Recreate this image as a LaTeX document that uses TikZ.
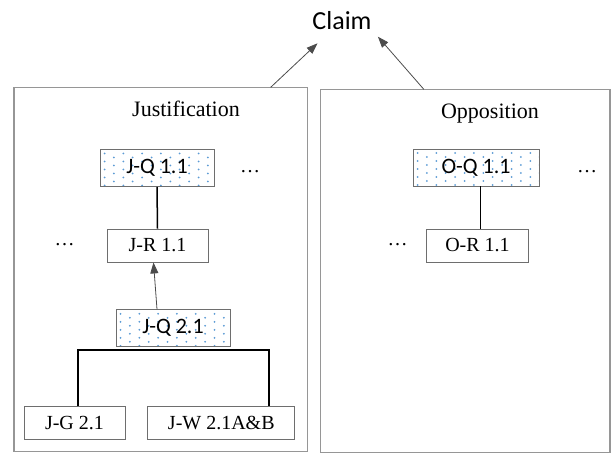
\documentclass[tikz,border=0pt]{standalone}
\usepackage{fontspec}
\setmainfont{Liberation Serif}
\newfontfamily\calibri{Carlito}
\usetikzlibrary{arrows.meta}

\definecolor{framegray}{RGB}{150,150,150}
\definecolor{boxgray}{RGB}{110,110,110}
\definecolor{dotblue}{RGB}{91,155,213}

\tikzset{
  frame/.style={draw=framegray, line width=1.1pt},
  rbox/.style={draw=boxgray, fill=white, line width=0.9pt, minimum height=33pt,
    inner sep=0pt, font=\fontsize{20}{24}\selectfont},
  qbox/.style={draw=boxgray, fill=white, line width=0.9pt, minimum height=37pt,
    inner sep=0pt, font=\calibri\fontsize{22}{26}\selectfont,
    path picture={
      \foreach \i in {0,...,13}
        \foreach \j in {0,...,4}
          \fill[dotblue] ([xshift={4.5pt+\i*9.4pt}, yshift={-4pt-\j*8pt-mod(\i,2)*4pt}]path picture bounding box.north west) circle (1pt);
    }},
  link/.style={line width=1.5pt},
  bus/.style={line width=2pt},
  up/.style={draw=black!70, line width=0.8pt, -{Stealth[length=11pt,width=8pt,inset=0pt]}},
  more/.style={font=\fontsize{20}{24}\selectfont}
}

\begin{document}
\begin{tikzpicture}[x=1pt,y=-1pt]
\useasboundingbox (0,0) rectangle (612,454);

% the two columns
\draw[frame] (14,87.3) rectangle (307.5,451.7);
\draw[frame] (320.7,89.3) rectangle (610,452.7);

\node (claim) at (342,21) {\calibri\fontsize{26}{30}\selectfont Claim};
\coordinate (jtop) at (270.7,87.3);
\coordinate (otop) at (423.8,89.3);
\coordinate (claimL) at (317.5,43.3);
\coordinate (claimR) at (377.9,36.7);
\draw[up] (jtop) -- (claimL);
\draw[up] (otop) -- (claimR);

\node[anchor=base, font=\fontsize{22}{26}\selectfont] (just) at (186,116.7) {Justification};
\node[anchor=base, font=\fontsize{22}{26}\selectfont] (opp) at (490,118.3) {Opposition};

% justification side
\node[qbox, minimum width=114pt] (jq1) at (157,168) {J-Q 1.1};
\node[rbox, minimum width=101pt] (jr1) at (157.5,245.5) {J-R 1.1};
\node[qbox, minimum width=114pt] (jq2) at (173,328.3) {J-Q 2.1};
\node[rbox, minimum width=101pt] (jg) at (74.5,423.3) {J-G 2.1};
\node[rbox, minimum width=147pt] (jw) at (221.3,423.3) {J-W 2.1A\&B};
\node[more] (jdotsR) at (250,172) {\ldots};
\node[more] (jdotsL) at (64.5,245) {\ldots};

\draw[link] (jq1.south) -- (jr1.north);
\draw[up] ([xshift=-16pt]jq2.north) -- ([xshift=-4pt]jr1.south);
\coordinate (busL) at (77.7,349.5);
\coordinate (busR) at (269.3,349.5);
\draw[bus] (jg.north -| busL) -- (busL) -- (busR) -- (jw.north -| busR);

% opposition side
\node[qbox, minimum width=126pt] (oq1) at (476,167.5) {O-Q 1.1};
\node[rbox, minimum width=101.6pt] (or1) at (477.5,245.5) {O-R 1.1};
\node[more] (odotsR) at (587,172) {\ldots};
\node[more] (odotsL) at (397.5,245) {\ldots};

\draw[link] ([xshift=4.7pt]oq1.south) -- ([xshift=3.2pt]or1.north);
\end{tikzpicture}
\end{document}
